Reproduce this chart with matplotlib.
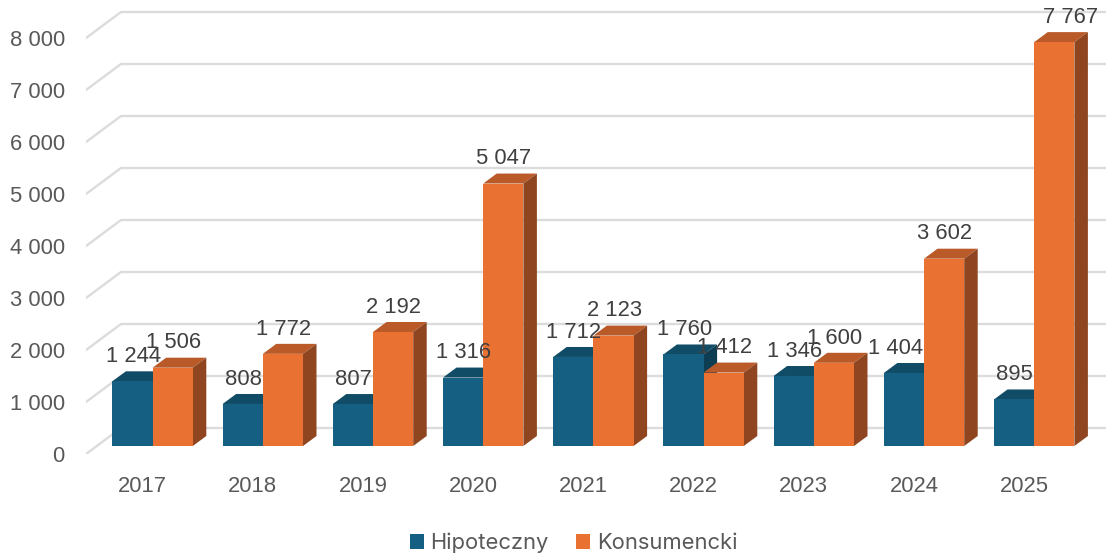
import matplotlib
matplotlib.use("Agg")
import matplotlib.pyplot as plt
from matplotlib.patches import Polygon, Patch

years = ["2017", "2018", "2019", "2020", "2021", "2022", "2023", "2024", "2025"]
hipoteczny = [1244, 808, 807, 1316, 1712, 1760, 1346, 1404, 895]
konsumencki = [1506, 1772, 2192, 5047, 2123, 1412, 1600, 3602, 7767]
series_names = ["Hipoteczny", "Konsumencki"]
y_ticks = [0, 1000, 2000, 3000, 4000, 5000, 6000, 7000, 8000]

W, H = 1106, 554
PX_X = 110.2          # pixels per category
PX_Y = 0.052          # pixels per unit
X0 = 152.6            # pixel of category 0 centre
Y0 = 446              # pixel of value 0 on the bar front
BAR = 40.2 / PX_X
DX, DY = 13.5 / PX_X, 10 / PX_Y
FONT = "Liberation Sans"
FS = 15.8

plt.rcParams["font.family"] = FONT
fig = plt.figure(figsize=(W / 100, H / 100), dpi=100)
L, B = 86, 454
ax = fig.add_axes([L / W, (H - B) / H, (W - L) / W, B / H])
ax.set_xlim((L - X0) / PX_X, (W - X0) / PX_X)
ax.set_ylim((Y0 - B) / PX_Y, Y0 / PX_Y)
ax.patch.set_visible(False)
for s in ax.spines.values():
    s.set_visible(False)

# grid on wall and side wall
front_off = (Y0 - 454) / PX_Y
back_off = (Y0 - 428) / PX_Y
x_left = (L - X0) / PX_X
x_back = (121 - X0) / PX_X
x_right = (W - X0) / PX_X
for v in y_ticks:
    ax.plot([x_left, x_back, x_right], [v + front_off, v + back_off, v + back_off],
            color="#dcdcdc", lw=1.7, zorder=1, solid_joinstyle="miter")

ax.set_yticks([v + front_off for v in y_ticks],
              [f"{v:,}".replace(",", " ") for v in y_ticks])
ax.set_xticks([i - 10 / PX_X for i in range(len(years))], years)
ax.tick_params(axis="y", length=0, pad=15.3, labelsize=FS, labelcolor="#595959")
ax.tick_params(axis="x", length=0, pad=15.5, labelsize=FS, labelcolor="#595959")

styles = [("#156082", "#114c66", "#0d3d52"), ("#E97132", "#b95a28", "#8f4620")]


def draw_bar(x_left_edge, v, cols, z):
    front, top, side = cols
    xl, xr = x_left_edge, x_left_edge + BAR
    ax.add_patch(Polygon([(xl, v), (xr, v), (xr + DX, v + DY), (xl + DX, v + DY)],
                         closed=True, fc=top, ec="none", zorder=z))
    ax.add_patch(Polygon([(xr, 0), (xr + DX, DY), (xr + DX, v + DY), (xr, v)],
                         closed=True, fc=side, ec="none", zorder=z))
    ax.bar(xl, v, width=BAR, align="edge", color=front, edgecolor="none",
           linewidth=0, zorder=z + 0.1)


for i in range(len(years)):
    draw_bar(i - BAR, hipoteczny[i], styles[0], 3 + i * 0.01)
    draw_bar(i, konsumencki[i], styles[1], 4 + i * 0.01)

label_shift_px = {7767: 16, 1404: -8}
for i in range(len(years)):
    for xc, v in ((i - BAR / 2, hipoteczny[i]), (i + BAR / 2, konsumencki[i])):
        shift = label_shift_px.get(v, 0.7)
        ax.annotate(f"{v:,}".replace(",", " "), (xc, v), xytext=(shift * 0.72, 17.8),
                    textcoords="offset points", ha="center", va="center",
                    fontsize=FS, color="#404040", zorder=10, annotation_clip=False)

handles = [Patch(fc=styles[0][0], ec="none"), Patch(fc=styles[1][0], ec="none")]
fig.legend(handles, series_names, loc="center", bbox_to_anchor=(573.5 / W, 1 - 543 / H),
           ncol=2, frameon=False, prop={"family": "Inter", "size": 15.8},
           labelcolor="#595959",
           handlelength=0.64, handleheight=0.64, handletextpad=0.3, columnspacing=1.25,
           borderpad=0, borderaxespad=0)

fig.savefig("out.png", dpi=100)
